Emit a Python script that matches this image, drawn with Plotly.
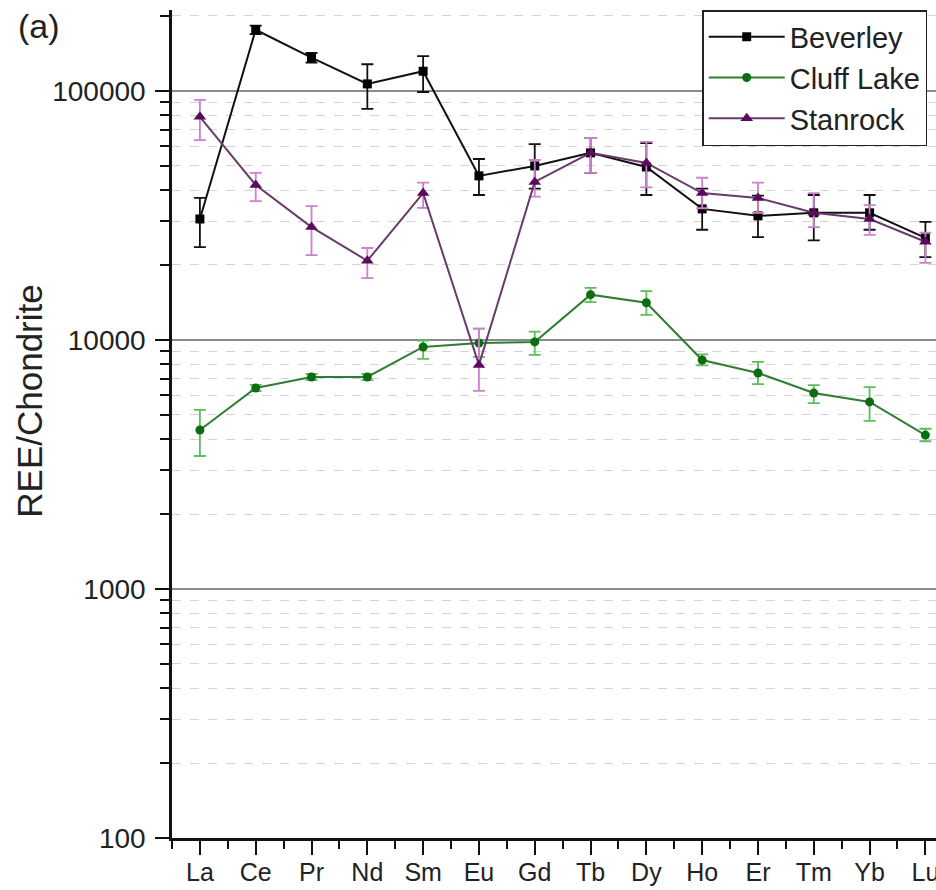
import plotly.graph_objects as go

elements = ["La", "Ce", "Pr", "Nd", "Sm", "Eu", "Gd", "Tb", "Dy", "Ho", "Er", "Tm", "Yb", "Lu"]

beverley = [30600, 176000, 136000, 106700, 120000, 45600, 50000, 56400, 49500, 33600, 31500, 32400, 32400, 25700]
beverley_hi = [37200, 183000, 142000, 128000, 138000, 53300, 61200, 64700, 61800, 40500, 38000, 38200, 38200, 29800]
beverley_lo = [23600, 169000, 130000, 84700, 99000, 38200, 40500, 46900, 38200, 27700, 25900, 25100, 27700, 21500]

cluff = [4350, 6410, 7100, 7100, 9370, 9720, 9820, 15200, 14100, 8310, 7370, 6120, 5640, 4150]
cluff_hi = [5240, 6600, 7300, 7300, 9950, 11100, 10800, 16200, 15700, 8750, 8170, 6590, 6470, 4400]
cluff_lo = [3420, 6230, 6900, 6900, 8400, 8550, 8710, 14200, 12600, 7900, 6650, 5580, 4730, 3920]

stanrock = [78700, 41900, 28400, 20800, 38900, 7940, 43100, 56400, 51400, 38900, 37200, 32400, 30600, 24800]
stanrock_hi = [92000, 46900, 34500, 23400, 42800, 11100, 52800, 64700, 62400, 44800, 42800, 38900, 34800, 27000]
stanrock_lo = [63500, 36100, 21900, 17700, 33900, 6240, 37600, 46900, 41000, 33800, 32400, 28400, 26400, 20400]

y_tickvals = [100, 1000, 10000, 100000]
y_ticktext = ["100", "1000", "10000", "100000"]
y_minorvals = [d * m for d in [100, 1000, 10000, 100000] for m in range(2, 10)]

xs = list(range(len(elements)))


def err(vals, hi, lo):
    return dict(
        type="data",
        symmetric=False,
        array=[h - v for h, v in zip(hi, vals)],
        arrayminus=[v - l for v, l in zip(vals, lo)],
    )


fig = go.Figure()

fig.add_trace(go.Scatter(
    x=xs, y=beverley, name="Beverley", mode="lines+markers",
    line=dict(color="#111111", width=2),
    marker=dict(symbol="square", size=9, color="#000000"),
    error_y=dict(**err(beverley, beverley_hi, beverley_lo), color="#111111", thickness=1.8, width=6),
))
fig.add_trace(go.Scatter(
    x=xs, y=cluff, name="Cluff Lake", mode="lines+markers",
    line=dict(color="#2e7d32", width=2),
    marker=dict(symbol="circle", size=9, color="#0d6b12"),
    error_y=dict(**err(cluff, cluff_hi, cluff_lo), color="#5cbf5c", thickness=1.8, width=6),
))
fig.add_trace(go.Scatter(
    x=xs, y=stanrock, name="Stanrock", mode="lines+markers",
    line=dict(color="#6a3a6a", width=2),
    marker=dict(symbol="triangle-up", size=11, color="#5c0a5c"),
    error_y=dict(**err(stanrock, stanrock_hi, stanrock_lo), color="#cf7fcf", thickness=1.8, width=6),
))

font_family = "Liberation Sans, Arial, sans-serif"

fig.update_layout(
    width=936, height=890,
    margin=dict(l=172, r=0, t=10, b=52),
    paper_bgcolor="white", plot_bgcolor="white",
    font=dict(family=font_family, size=26, color="#222222"),
    showlegend=True,
    legend=dict(
        x=0.694, y=1.0, xanchor="left", yanchor="top",
        bgcolor="white", bordercolor="#222222", borderwidth=1.5,
        font=dict(size=29, color="#222222"),
        itemwidth=76, tracegroupgap=0,
    ),
    annotations=[
        dict(
            text="(a)", xref="paper", yref="paper", x=-0.204, y=0.981,
            xanchor="left", yanchor="middle", showarrow=False,
            font=dict(size=34, color="#222222"),
        ),
        dict(
            text="REE/Chondrite", xref="paper", yref="paper", x=-0.186, y=0.528,
            xanchor="center", yanchor="middle", showarrow=False, textangle=-90,
            font=dict(size=35, color="#222222"),
        ),
    ],
)

fig.update_xaxes(
    range=[-0.5, 13.19], automargin=False,
    tickmode="array", tickvals=xs, ticktext=elements,
    ticks="outside", ticklen=14, tickwidth=2, tickcolor="#111111",
    showline=True, linecolor="#111111", linewidth=2.5,
    showgrid=False, zeroline=False,
    tickfont=dict(size=25, color="#222222"),
    ticklabelstandoff=-4,
    ticklabeloverflow="allow",
    minor=dict(tickmode="array", tickvals=[i - 0.5 for i in range(15)], ticks="outside", ticklen=8, tickwidth=2,
               tickcolor="#111111", showgrid=False),
)

fig.update_yaxes(
    type="log", range=[2, 5.325], automargin=False,
    tickmode="array", tickvals=y_tickvals, ticktext=y_ticktext,
    ticks="outside", ticklen=14, tickwidth=2, tickcolor="#111111",
    showline=True, linecolor="#111111", linewidth=2.5,
    showgrid=True, gridcolor="#8a8a8a", gridwidth=1.5,
    zeroline=False,
    tickfont=dict(size=28, color="#222222"),
    ticklabelstandoff=4,
    minor=dict(tickmode="array", tickvals=y_minorvals, ticks="outside", ticklen=9, tickwidth=2, tickcolor="#111111",
               showgrid=True, gridcolor="#d4d4d4", gridwidth=1, griddash="dash"),
)

fig.write_html(
    "out.html",
    config={"displayModeBar": False},
    post_script="document.body.style.margin='0';document.body.style.overflow='hidden';",
)
